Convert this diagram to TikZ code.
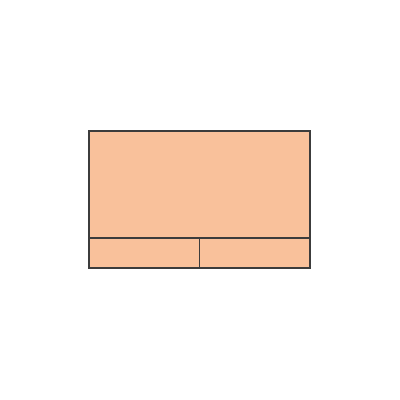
\documentclass[tikz,border=0pt]{standalone}
\usepackage{tikz}
\usetikzlibrary{positioning}
\definecolor{padfill}{RGB}{249,193,155}
\definecolor{padline}{RGB}{60,60,60}

\begin{document}
\begin{tikzpicture}[
    part/.style={draw=padline, fill=padfill, line width=0.9pt, inner sep=0pt, outer sep=0pt}
]
    \useasboundingbox (0,0) rectangle (10,10);
    % Pad
    \node[part, minimum width=5.525cm, minimum height=2.675cm, anchor=south west] (pad) at (2.225,4.05) {};
    % Buttons
    \node[part, minimum width=2.7625cm, minimum height=0.75cm, anchor=north west] (lbtn) at (pad.south west) {};
    \node[part, minimum width=2.7625cm, minimum height=0.75cm, anchor=north east] (rbtn) at (pad.south east) {};
\end{tikzpicture}
\end{document}
